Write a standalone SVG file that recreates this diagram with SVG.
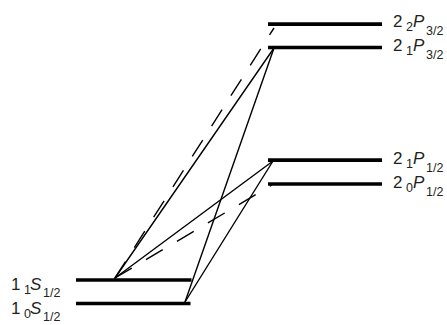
<svg xmlns="http://www.w3.org/2000/svg" width="447" height="325" viewBox="0 0 447 325">
<style>
.lvl{stroke:#000;stroke-width:3.7;fill:none}
.ln{stroke:#000;stroke-width:1.4;fill:none;stroke-linecap:round}
.dash{stroke-dasharray:19.5 16.5;stroke-linecap:butt}
text{font-family:"Liberation Sans",Arial,sans-serif;fill:#231f20}
.m{font-size:17px}
.s{font-size:12.5px}
.i{font-style:italic}
</style>
<rect width="447" height="325" fill="#fff"/>
<g id="connectors">
<line class="ln" x1="115" y1="278" x2="274" y2="48"/>
<line class="ln" x1="185" y1="302" x2="274" y2="48"/>
<line class="ln" x1="115" y1="278" x2="273" y2="161"/>
<line class="ln" x1="185" y1="302" x2="273" y2="161"/>
<line class="ln dash" x1="115" y1="278" x2="274" y2="28"/>
<line class="ln dash" x1="115" y1="278" x2="272" y2="185"/>
</g>
<g id="n-2-2P32">
<line class="lvl" x1="268" y1="24.2" x2="382" y2="24.2"/>
<text class="m" x="393" y="27">2</text><text class="s" x="406" y="31">2</text><text class="m i" x="413" y="27">P</text><text class="s" x="426" y="34.5">3/2</text>
</g>
<g id="n-2-1P32">
<line class="lvl" x1="268" y1="47.5" x2="382" y2="47.5"/>
<text class="m" x="393" y="51">2</text><text class="s" x="406" y="55">1</text><text class="m i" x="413" y="51">P</text><text class="s" x="426" y="58.5">3/2</text>
</g>
<g id="n-2-1P12">
<line class="lvl" x1="268" y1="160.2" x2="382" y2="160.2"/>
<text class="m" x="393" y="164">2</text><text class="s" x="406" y="168">1</text><text class="m i" x="413" y="164">P</text><text class="s" x="426" y="171.5">1/2</text>
</g>
<g id="n-2-0P12">
<line class="lvl" x1="268" y1="184" x2="382" y2="184"/>
<text class="m" x="393" y="188">2</text><text class="s" x="406" y="192">0</text><text class="m i" x="413" y="188">P</text><text class="s" x="426" y="195.5">1/2</text>
</g>
<g id="n-1-1S12">
<line class="lvl" x1="76" y1="280" x2="191.5" y2="280"/>
<text class="m" x="11" y="290">1</text><text class="s" x="24" y="294">1</text><text class="m i" x="30" y="290">S</text><text class="s" x="43" y="297">1/2</text>
</g>
<g id="n-1-0S12">
<line class="lvl" x1="76" y1="303.5" x2="190.5" y2="303.5"/>
<text class="m" x="11" y="314">1</text><text class="s" x="24" y="318">0</text><text class="m i" x="30" y="314">S</text><text class="s" x="43" y="321">1/2</text>
</g>
</svg>
